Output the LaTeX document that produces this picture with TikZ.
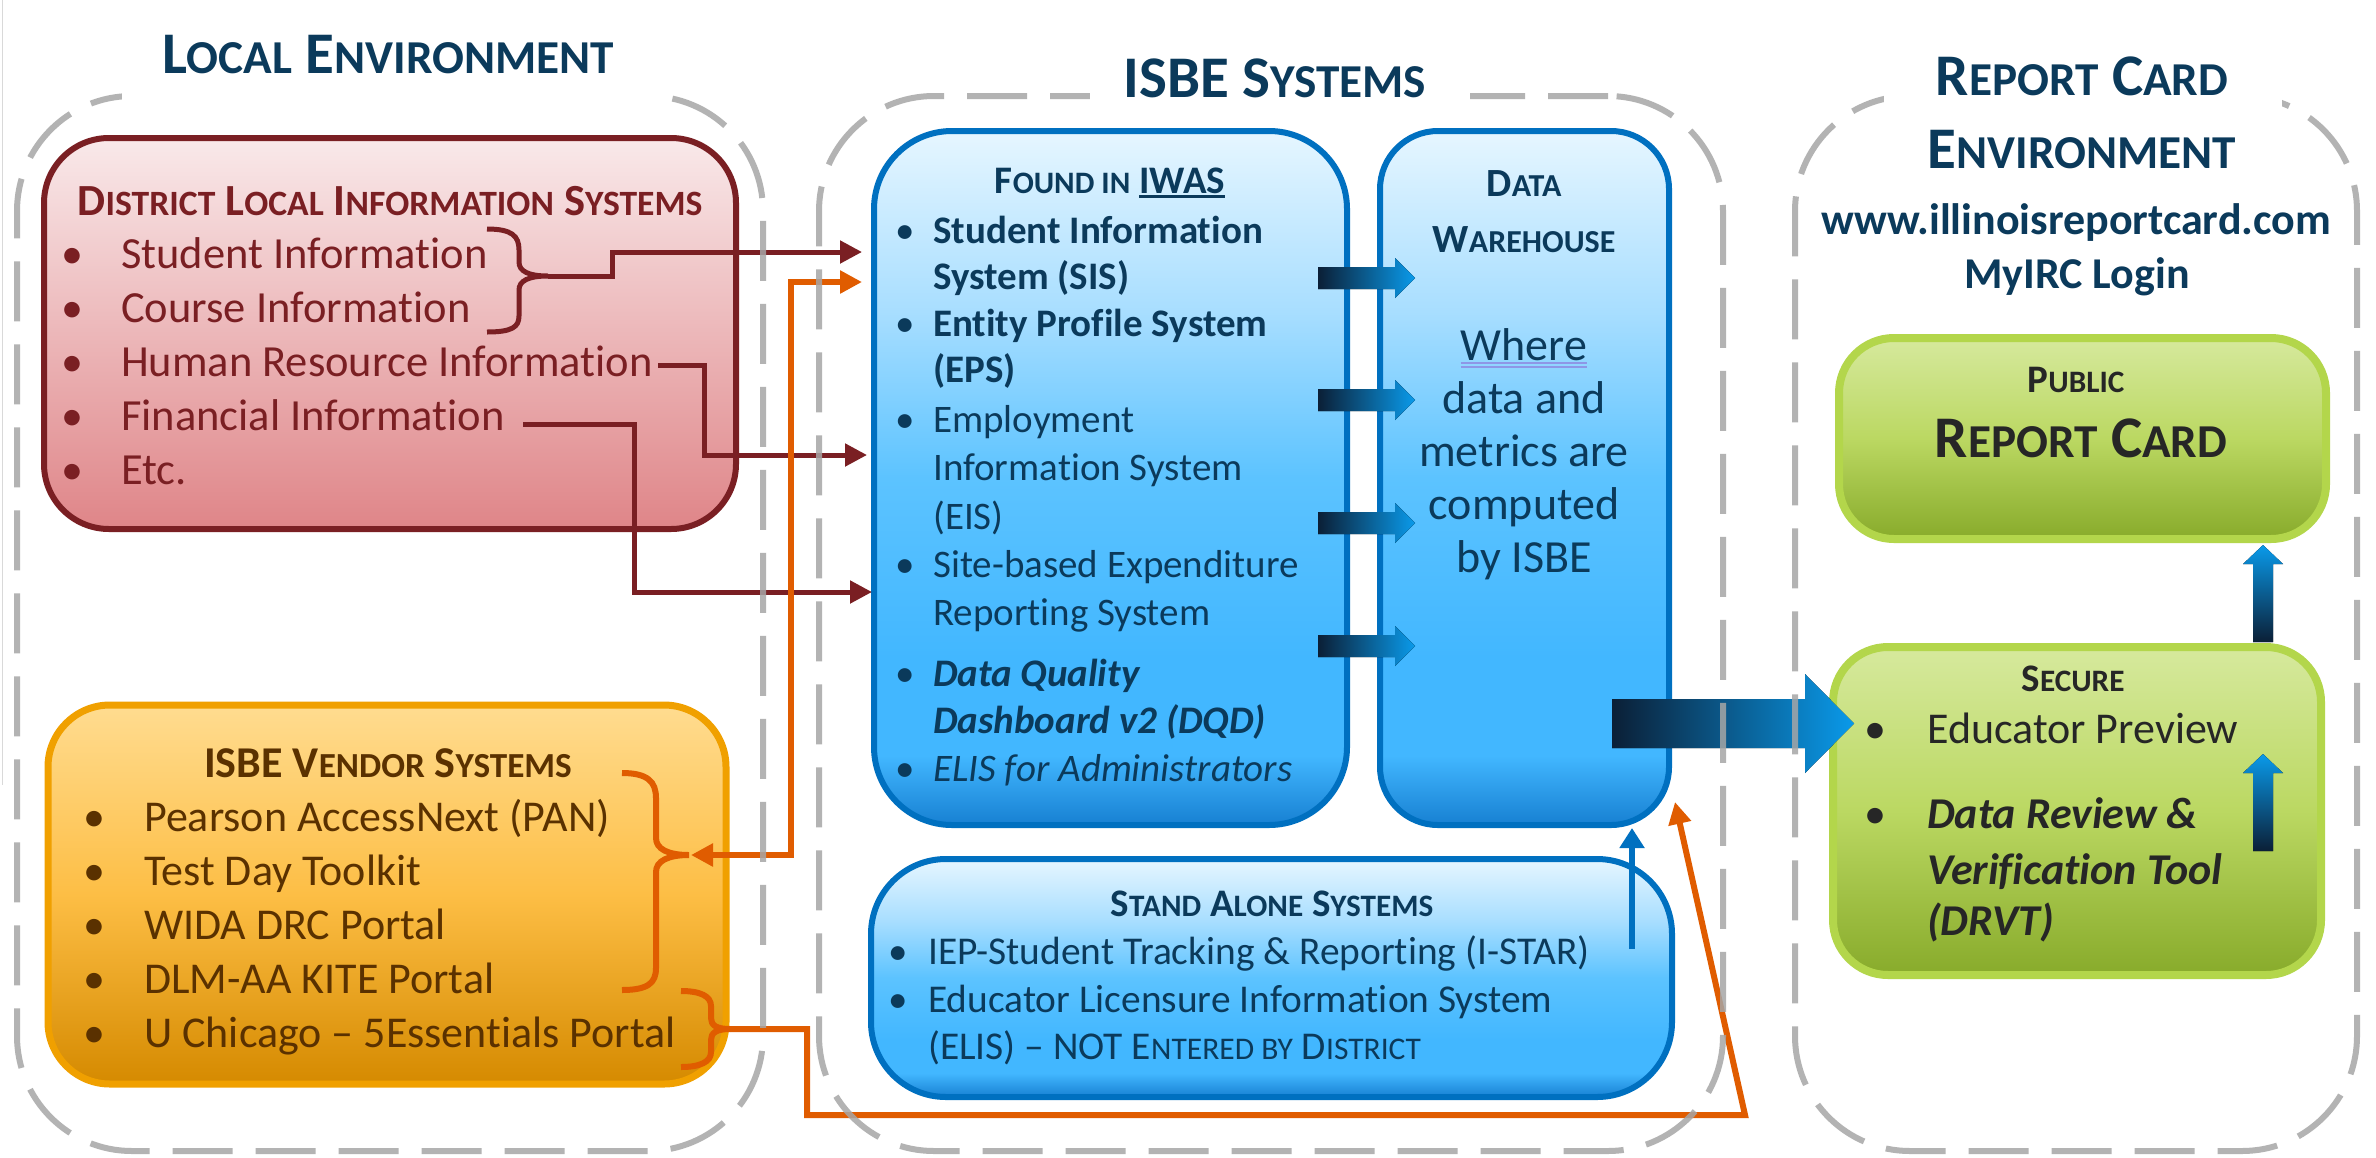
\documentclass[tikz,border=0pt]{standalone}
\usepackage{fontspec}
\setmainfont{Carlito}[Ligatures={NoCommon,NoContextual}]
\usepackage{graphicx}
\usetikzlibrary{arrows.meta}

\definecolor{navy}{HTML}{0B3A5B}
\definecolor{dred}{HTML}{7A1F23}
\definecolor{brn}{HTML}{5A3100}
\definecolor{dgray}{HTML}{262626}
\definecolor{envgray}{HTML}{A6A6A6}
\definecolor{orng}{HTML}{E05C00}
\definecolor{bblue}{HTML}{0070C0}
\definecolor{vborder}{HTML}{F0A000}
\definecolor{gborder}{HTML}{B3D64B}
\definecolor{arrD}{HTML}{0B1F36}
\definecolor{arrB}{HTML}{0A9AEA}
\definecolor{ulcol}{HTML}{8E96E6}

\definecolor{rT}{HTML}{F9E9EA}
\definecolor{rB}{HTML}{DF8588}
\definecolor{oT}{HTML}{FFDC90}
\definecolor{oM}{HTML}{FDBE45}
\definecolor{oB}{HTML}{D58A00}
\definecolor{bT}{HTML}{E6F6FF}
\definecolor{bM1}{HTML}{A8DEFF}
\definecolor{bM2}{HTML}{5CC3FF}
\definecolor{bM3}{HTML}{42B7FF}
\definecolor{bB}{HTML}{1780D2}
\definecolor{gT}{HTML}{D6E99D}
\definecolor{gM}{HTML}{BBD862}
\definecolor{gB}{HTML}{88AB2B}

\pgfdeclareverticalshading{redsh}{100bp}{color(0bp)=(rB); color(25bp)=(rB); color(75bp)=(rT); color(100bp)=(rT)}
\pgfdeclareverticalshading{orsh}{100bp}{color(0bp)=(oB); color(25bp)=(oB); color(50bp)=(oM); color(75bp)=(oT); color(100bp)=(oT)}
\pgfdeclareverticalshading{blsh}{100bp}{color(0bp)=(bB); color(25bp)=(bB); color(30bp)=(bM3); color(37bp)=(bM3); color(50bp)=(bM2); color(62bp)=(bM1); color(75bp)=(bT); color(100bp)=(bT)}
\pgfdeclareverticalshading{grsh}{100bp}{color(0bp)=(gB); color(25bp)=(gB); color(50bp)=(gM); color(75bp)=(gT); color(100bp)=(gT)}

\newcommand\sz[1]{\fontsize{#1}{#1}\selectfont}
\newcommand\lc[1]{\scalebox{0.8}{#1}}
\newcommand\ulx[1]{\leavevmode\vtop{\hbox{#1}\kern2pt\hrule height 2.5pt}}
% horizontal block arrow: x-start, x-headbase, x-tip, y-centre, shaft half, head half
\newcommand\harr[6]{\fill[left color=arrD, right color=arrB] (#1,{#4-#5}) -- (#2,{#4-#5}) -- (#2,{#4-#6}) -- (#3,#4) -- (#2,{#4+#6}) -- (#2,{#4+#5}) -- (#1,{#4+#5}) -- cycle;}
% vertical block arrow (upwards): x-centre, y-bottom, y-headbase, y-tip, shaft half, head half
\newcommand\varr[6]{\fill[bottom color=arrD, top color=arrB] ({#1-#5},#2) -- ({#1-#5},#3) -- ({#1-#6},#3) -- (#1,#4) -- ({#1+#6},#3) -- ({#1+#5},#3) -- ({#1+#5},#2) -- cycle;}

\begin{document}
\begin{tikzpicture}[x=1pt,y=-1pt,
  tx/.style={inner sep=0pt, anchor=base west},
  tc/.style={inner sep=0pt, anchor=base},
  envbox/.style={draw=envgray, line width=6pt, dash pattern=on 60pt off 23pt, rounded corners=115pt, inner sep=0pt, draw opacity=0.85},
  redbox/.style={shade, shading=redsh, draw=dred, line width=6pt, rounded corners=65pt, inner sep=0pt},
  orbox/.style={shade, shading=orsh, draw=vborder, line width=7pt, rounded corners=62pt, inner sep=0pt},
  bluebox/.style={shade, shading=blsh, draw=bblue, line width=6pt, rounded corners=78pt, inner sep=0pt},
  grbox/.style={shade, shading=grsh, draw=gborder, line width=8pt, rounded corners=55pt, inner sep=0pt},
  redline/.style={draw=dred, line width=5pt},
  orline/.style={draw=orng, line width=6pt},
  arrhead/.style={-{Triangle[length=22pt,width=22pt]}},
  arrboth/.style={{Triangle[length=22pt,width=22pt]}-{Triangle[length=22pt,width=22pt]}}
]
\useasboundingbox (0,0) rectangle (2376,1157);
\fill[white] (0,0) rectangle (2376,1157);
\draw[draw=black!15, line width=1.5pt] (2.5,0) -- (2.5,785);

% ---------- boxes ----------
\node[redbox, minimum width=692pt, minimum height=391pt] (district) at (390,333.5) {};
\node[orbox, minimum width=678pt, minimum height=379pt] (vendor) at (387,894.5) {};
\node[bluebox, minimum width=473pt, minimum height=694pt] (iwas) at (1110.5,478) {};
\node[bluebox, rounded corners=58pt, minimum width=289pt, minimum height=694pt] (dw) at (1524.5,478) {};
\node[bluebox, rounded corners=75pt, minimum width=801pt, minimum height=238pt] (stand) at (1271.5,978) {};
\node[grbox, minimum width=487pt, minimum height=201pt] (public) at (2082.5,438.5) {};
\node[grbox, minimum width=488pt, minimum height=328pt] (secure) at (2077,811) {};

% ---------- connector end points ----------
\coordinate (b1) at (548,276);
\coordinate (hr) at (658,365);
\coordinate (fi) at (523,424);
\coordinate (t1) at (862,252);
\coordinate (t2) at (867,455);
\coordinate (t3) at (872,592);
\coordinate (t4) at (862,282);
\coordinate (v1) at (691,855);
\coordinate (v2) at (730,1029);
\coordinate (t5) at (1675,802);
\coordinate (sa1) at (1632,949);

% ---------- braces ----------
\draw[redline] (487,229) .. controls (512,229) and (519,236) .. (519,250) -- (519,262) .. controls (519,271) and (528,276) .. (b1) .. controls (528,276) and (519,281) .. (519,290) -- (519,316) .. controls (519,327) and (512,332) .. (487,332);
\draw[orline] (622,773) .. controls (648,773) and (656,782) .. (656,798) -- (656,838) .. controls (656,849) and (668,855) .. (689,855) .. controls (668,855) and (656,861) .. (656,872) -- (656,968) .. controls (656,983) and (648,990) .. (622,990);
\draw[orline] (681,991) .. controls (700,991) and (711,996) .. (711,1006) -- (711,1018) .. controls (711,1025) and (716,1029) .. (v2) .. controls (716,1029) and (711,1033) .. (711,1040) -- (711,1052) .. controls (711,1062) and (700,1067) .. (681,1067);

% ---------- connectors ----------
\draw[redline, arrhead] (b1) -- (612,276) -- (612,252) -- (t1);
\draw[redline, arrhead] (hr) -- (704,365) -- (704,455) -- (t2);
\draw[redline, arrhead] (fi) -- (634,424) -- (634,592) -- (t3);
\draw[orline, arrboth] (v1) -- (791,855) -- (791,282) -- (t4);
\draw[orline, arrhead] (v2) -- (807,1029) -- (807,1115) -- (1745,1115) -- (t5);
\draw[draw=bblue, line width=6pt, -{Triangle[length=20pt,width=24pt]}] (sa1) -- (sa1 |- dw.south);

% ---------- block arrows ----------
\harr{1318}{1395}{1415}{278}{11}{20}
\harr{1318}{1395}{1415}{400}{11}{20}
\harr{1318}{1395}{1415}{523}{11}{20}
\harr{1318}{1395}{1415}{646}{11}{20}
\harr{1612}{1805}{1854}{723.5}{24.5}{49.5}
\varr{2263}{642}{564}{545}{10}{20}
\varr{2263}{851}{773}{754}{10}{20}

% ---------- environment frames ----------
\node[envbox, minimum width=746pt, minimum height=1055pt] (localenv) at (390,623.5) {};
\node[envbox, minimum width=904pt, minimum height=1055pt] (isbeenv) at (1271,623.5) {};
\node[envbox, minimum width=562pt, minimum height=1055pt] (rcenv) at (2076,623.5) {};
\fill[white] (122,84) rectangle (654,108);
\fill[white] (1090,84) rectangle (1470,108);
\fill[white] (1884,84) rectangle (2282,108);

% ---------- titles ----------
\node[tc, text=navy] (tlocal) at (388,73) {\sz{59}\bfseries L\lc{OCAL} E\lc{NVIRONMENT}};
\node[tc, text=navy] (tisbe) at (1275,97) {\sz{59}\bfseries ISBE S\lc{YSTEMS}};
\node[tc, text=navy] (trc1) at (2082,95) {\sz{59}\bfseries R\lc{EPORT} C\lc{ARD}};
\node[tc, text=navy] (trc2) at (2082,168) {\sz{59}\bfseries E\lc{NVIRONMENT}};
\node[tc, text=navy] (url) at (2076,234) {\sz{44}\bfseries www.illinoisreportcard.com};
\node[tc, text=navy] (myirc) at (2077,288) {\sz{44}\bfseries MyIRC Login};

% ---------- district ----------
\node[tc, text=dred] (dtitle) at (390,215) {\sz{44.5}\bfseries D\lc{ISTRICT} L\lc{OCAL} I\lc{NFORMATION} S\lc{YSTEMS}};
\foreach \y [count=\i] in {268,322,376,430,484}
  \node[tc, text=dred] (db\i) at (72,\y) {\sz{44}•};
\node[tx, text=dred] (d1) at (121,268) {\sz{44.5}Student Information};
\node[tx, text=dred] (d2) at (121,322) {\sz{44.5}Course Information};
\node[tx, text=dred] (d3) at (121,376) {\sz{44.5}Human Resource Information};
\node[tx, text=dred] (d4) at (121,430) {\sz{44.5}Financial Information};
\node[tx, text=dred] (d5) at (121,484) {\sz{44.5}Etc.};

% ---------- vendor ----------
\node[tc, text=brn] (vtitle) at (388,777) {\sz{44}\bfseries ISBE V\lc{ENDOR} S\lc{YSTEMS}};
\foreach \y [count=\i] in {831,885,939,993,1047}
  \node[tc, text=brn] (vb\i) at (94,\y) {\sz{44}•};
\node[tx, text=brn] (ve1) at (144,831) {\sz{44}Pearson AccessNext (PAN)};
\node[tx, text=brn] (ve2) at (144,885) {\sz{44}Test Day Toolkit};
\node[tx, text=brn] (ve3) at (144,939) {\sz{44}WIDA DRC Portal};
\node[tx, text=brn] (ve4) at (144,993) {\sz{44}DLM-AA KITE Portal};
\node[tx, text=brn] (ve5) at (144,1047) {\sz{44}U Chicago – 5Essentials Portal};

% ---------- IWAS ----------
\node[tc, text=navy] (ititle) at (1110,193) {\sz{39}\bfseries F\lc{OUND IN} \ulx{IWAS}};
\foreach \y [count=\i] in {243,336,432,577,686,781}
  \node[tc, text=navy] (ib\i) at (905,\y) {\sz{39}•};
\node[tx, text=navy] (i1) at (933,243) {\sz{39}\bfseries Student Information};
\node[tx, text=navy] (i2) at (933,289) {\sz{39}\bfseries System (SIS)};
\node[tx, text=navy] (i3) at (933,336) {\sz{39}\bfseries Entity Profile System};
\node[tx, text=navy] (i4) at (933,382) {\sz{39}\bfseries (EPS)};
\node[tx, text=navy] (i5) at (933,432) {\sz{39}Employment};
\node[tx, text=navy] (i6) at (933,480) {\sz{39}Information System};
\node[tx, text=navy] (i7) at (933,529) {\sz{39}(EIS)};
\node[tx, text=navy] (i8) at (933,577) {\sz{39}Site-based Expenditure};
\node[tx, text=navy] (i9) at (933,625) {\sz{39}Reporting System};
\node[tx, text=navy] (i10) at (933,686) {\sz{39}\bfseries\itshape Data Quality};
\node[tx, text=navy] (i11) at (933,733) {\sz{39}\bfseries\itshape Dashboard v2 (DQD)};
\node[tx, text=navy] (i12) at (933,781) {\sz{39}\itshape ELIS for Administrators};

% ---------- data warehouse ----------
\node[tc, text=navy] (dwt1) at (1524,196) {\sz{40}\bfseries D\lc{ATA}};
\node[tc, text=navy] (dwt2) at (1524,252) {\sz{40}\bfseries W\lc{AREHOUSE}};
\node[tc, text=navy] (where) at (1524,360) {\sz{46}Where};
\draw[ulcol, line width=1.5pt] ([yshift=-3pt]where.base west) -- ([yshift=-3pt]where.base east);
\draw[ulcol, line width=1.5pt] ([yshift=-7pt]where.base west) -- ([yshift=-7pt]where.base east);
\node[tc, text=navy] (dw2) at (1524,413) {\sz{46}data and};
\node[tc, text=navy] (dw3) at (1524,466) {\sz{46}metrics are};
\node[tc, text=navy] (dw4) at (1524,519) {\sz{46}computed};
\node[tc, text=navy] (dw5) at (1524,572) {\sz{46}by ISBE};

% ---------- stand alone ----------
\node[tc, text=navy] (stitle) at (1272,916) {\sz{39}\bfseries S\lc{TAND} A\lc{LONE} S\lc{YSTEMS}};
\node[tc, text=navy] (sb1) at (898,964) {\sz{39}•};
\node[tc, text=navy] (sb2) at (898,1012) {\sz{39}•};
\node[tx, text=navy] (s1) at (928,964) {\sz{39.4}IEP-Student Tracking \& Reporting (I-STAR)};
\node[tx, text=navy] (s2) at (928,1012) {\sz{39.4}Educator Licensure Information System};
\node[tx, text=navy] (s3) at (928,1059) {\sz{39.4}(ELIS) – NOT E\lc{NTERED BY} D\lc{ISTRICT}};

% ---------- report card boxes ----------
\node[tc, text=dgray] (pt1) at (2076,392) {\sz{39}\bfseries P\lc{UBLIC}};
\node[tc, text=dgray] (pt2) at (2081,457) {\sz{59}\bfseries R\lc{EPORT} C\lc{ARD}};
\node[tc, text=dgray] (sct) at (2073,691) {\sz{39}\bfseries S\lc{ECURE}};
\node[tc, text=dgray] (scb1) at (1875,743) {\sz{44}•};
\node[tc, text=dgray] (scb2) at (1875,828) {\sz{44}•};
\node[tx, text=dgray] (sc1) at (1927,743) {\sz{44}Educator Preview};
\node[tx, text=dgray] (sc2) at (1927,828) {\sz{44}\bfseries\itshape Data Review \&};
\node[tx, text=dgray] (sc3) at (1927,884) {\sz{44}\bfseries\itshape Verification Tool};
\node[tx, text=dgray] (sc4) at (1927,935) {\sz{44}\bfseries\itshape (DRVT)};
\end{tikzpicture}
\end{document}
